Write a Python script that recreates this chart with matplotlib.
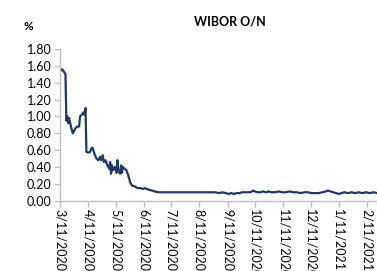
import matplotlib
matplotlib.use("Agg")
import matplotlib.pyplot as plt
import matplotlib.dates as mdates
import numpy as np
import datetime as dt

start_date = "2020-03-11"
tick_labels = ["3/11/2020", "4/11/2020", "5/11/2020", "6/11/2020", "7/11/2020",
               "8/11/2020", "9/11/2020", "10/11/2020", "11/11/2020", "12/11/2020",
               "1/11/2021", "2/11/2021"]
tick_dates = ["2020-03-11", "2020-04-11", "2020-05-11", "2020-06-11", "2020-07-11",
              "2020-08-11", "2020-09-11", "2020-10-11", "2020-11-11", "2020-12-11",
              "2021-01-11", "2021-02-11"]

day_offsets = [0, 1, 2, 3, 5, 6, 7, 8, 9, 10, 12, 14, 15, 17, 19, 21, 22, 24, 26, 27,
               28, 29, 31, 33, 35, 36, 38, 40, 42, 44, 45, 47, 48, 50, 52, 54, 55, 56,
               57, 58, 60, 62, 63, 64, 66, 67, 68, 69, 71, 73, 75, 77, 79, 82, 85, 88,
               91, 93, 95, 98, 101, 104, 108, 115, 120, 125, 130, 135, 140, 145, 150,
               155, 160, 165, 170, 175, 178, 182, 185, 188, 191, 194, 197, 200, 204,
               208, 211, 212, 214, 217, 220, 223, 226, 229, 232, 236, 240, 244, 248,
               252, 256, 260, 264, 268, 272, 276, 280, 284, 288, 292, 294, 297, 300,
               303, 306, 309, 312, 316, 320, 324, 328, 332, 336, 340, 344, 348, 350]
wibor_on = [1.53, 1.55, 1.56, 1.55, 1.52, 1.50, 0.95, 1.00, 0.92, 0.98, 0.88, 0.80,
            0.82, 0.86, 0.88, 0.88, 1.00, 1.02, 1.05, 1.02, 1.10, 0.58, 0.57, 0.58,
            0.63, 0.62, 0.55, 0.50, 0.48, 0.52, 0.48, 0.54, 0.46, 0.48, 0.42, 0.38,
            0.46, 0.32, 0.42, 0.36, 0.40, 0.33, 0.48, 0.35, 0.32, 0.42, 0.33, 0.40,
            0.38, 0.36, 0.30, 0.22, 0.18, 0.17, 0.15, 0.15, 0.14, 0.15, 0.14, 0.13,
            0.12, 0.11, 0.10, 0.10, 0.10, 0.10, 0.10, 0.10, 0.10, 0.10, 0.10, 0.10,
            0.10, 0.10, 0.10, 0.09, 0.10, 0.09, 0.08, 0.09, 0.08, 0.09, 0.09, 0.10,
            0.10, 0.10, 0.11, 0.12, 0.11, 0.10, 0.10, 0.11, 0.10, 0.11, 0.10, 0.10,
            0.11, 0.10, 0.10, 0.11, 0.10, 0.10, 0.09, 0.10, 0.10, 0.09, 0.09, 0.09,
            0.10, 0.11, 0.12, 0.11, 0.10, 0.09, 0.08, 0.09, 0.10, 0.09, 0.10, 0.09,
            0.10, 0.09, 0.10, 0.09, 0.10, 0.09, 0.10]

base = dt.datetime.strptime(start_date, "%Y-%m-%d")
dates = [base + dt.timedelta(days=d) for d in day_offsets]
tdates = [dt.datetime.strptime(s, "%Y-%m-%d") for s in tick_dates]

plt.rcParams['font.family'] = ['Lato', 'DejaVu Sans']

fig = plt.figure(figsize=(3.77, 2.71), dpi=100)
ax = fig.add_axes([60/377, 1 - 200.7/271, 1 - 60/377, (200.7 - 49)/271])

ax.plot(dates, wibor_on, color="#1F3864", linewidth=1.6)

ax.set_ylim(0, 1.8)
ax.set_yticks(np.arange(0, 1.81, 0.2))
ax.set_yticklabels([f"{v:.2f}" for v in np.arange(0, 1.81, 0.2)], fontsize=9)
ax.set_xlim(base, base + dt.timedelta(days=348))
ax.set_xticks(tdates)
ax.set_xticklabels(tick_labels, rotation=-90, fontsize=9, va="top", ha="center")

for s in ["top", "right"]:
    ax.spines[s].set_visible(False)
for s in ["left", "bottom"]:
    ax.spines[s].set_color("#BFBFBF")
    ax.spines[s].set_linewidth(1.0)
ax.tick_params(axis="both", colors="#BFBFBF", length=4, width=1.0, labelcolor="black", pad=2)

fig.text(230/377, 1 - 21/271, "WIBOR O/N", ha="center", va="center",
         fontsize=9, fontweight="bold")
fig.text(28/377, 1 - 27/271, "%", ha="center", va="center", fontsize=8.5, fontweight="bold")

fig.savefig("out.png", dpi=100)
